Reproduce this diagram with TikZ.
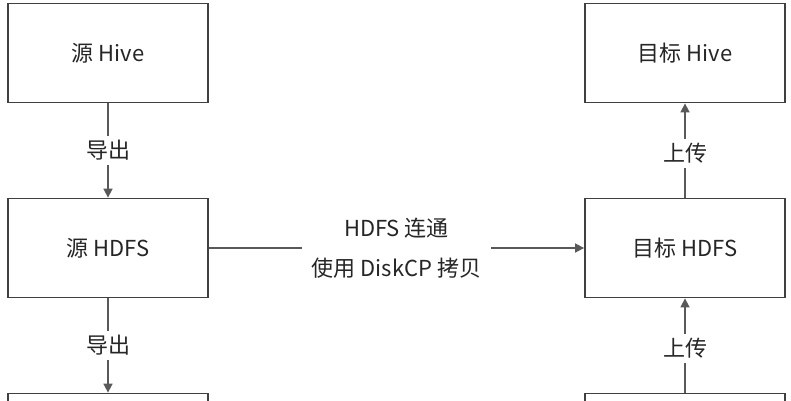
\documentclass[tikz,border=0pt]{standalone}
\usepackage{fontspec}
\setmainfont{Noto Sans CJK SC}
\usetikzlibrary{arrows.meta}
\begin{document}
\begin{tikzpicture}[x=1pt,y=1pt,
  box/.style={draw=black!75,line width=1.8pt,minimum width=200pt,minimum height=99pt,inner sep=0pt,font=\fontsize{22}{26}\selectfont,text=black!85},
  conn/.style={draw=black!65,line width=1.6pt,-{Triangle[length=9pt,width=9pt]}},
  lab/.style={fill=white,font=\fontsize{22}{40}\selectfont,text=black!85,inner sep=4pt,align=center}]
\useasboundingbox (0,0) rectangle (791,-400);
\node[box] (sh) at (108,-53) {源 Hive};
\node[box] (sd) at (108,-248) {源 HDFS};
\node[box] (sb) at (108,-443) {};
\node[box] (th) at (685,-53) {目标 Hive};
\node[box] (td) at (685,-248) {目标 HDFS};
\node[box] (tb) at (685,-443) {};
\draw[conn] (sh) -- node[lab] {导出} (sd);
\draw[conn] (sd) -- node[lab] {导出} (sb);
\draw[conn] (td) -- node[lab,yshift=-3pt] {上传} (th);
\draw[conn] (tb) -- node[lab,yshift=-3pt] {上传} (td);
\draw[conn] (sd) -- node[lab,inner xsep=10pt] {HDFS 连通\\使用 DiskCP 拷贝} (td);
\end{tikzpicture}
\end{document}
